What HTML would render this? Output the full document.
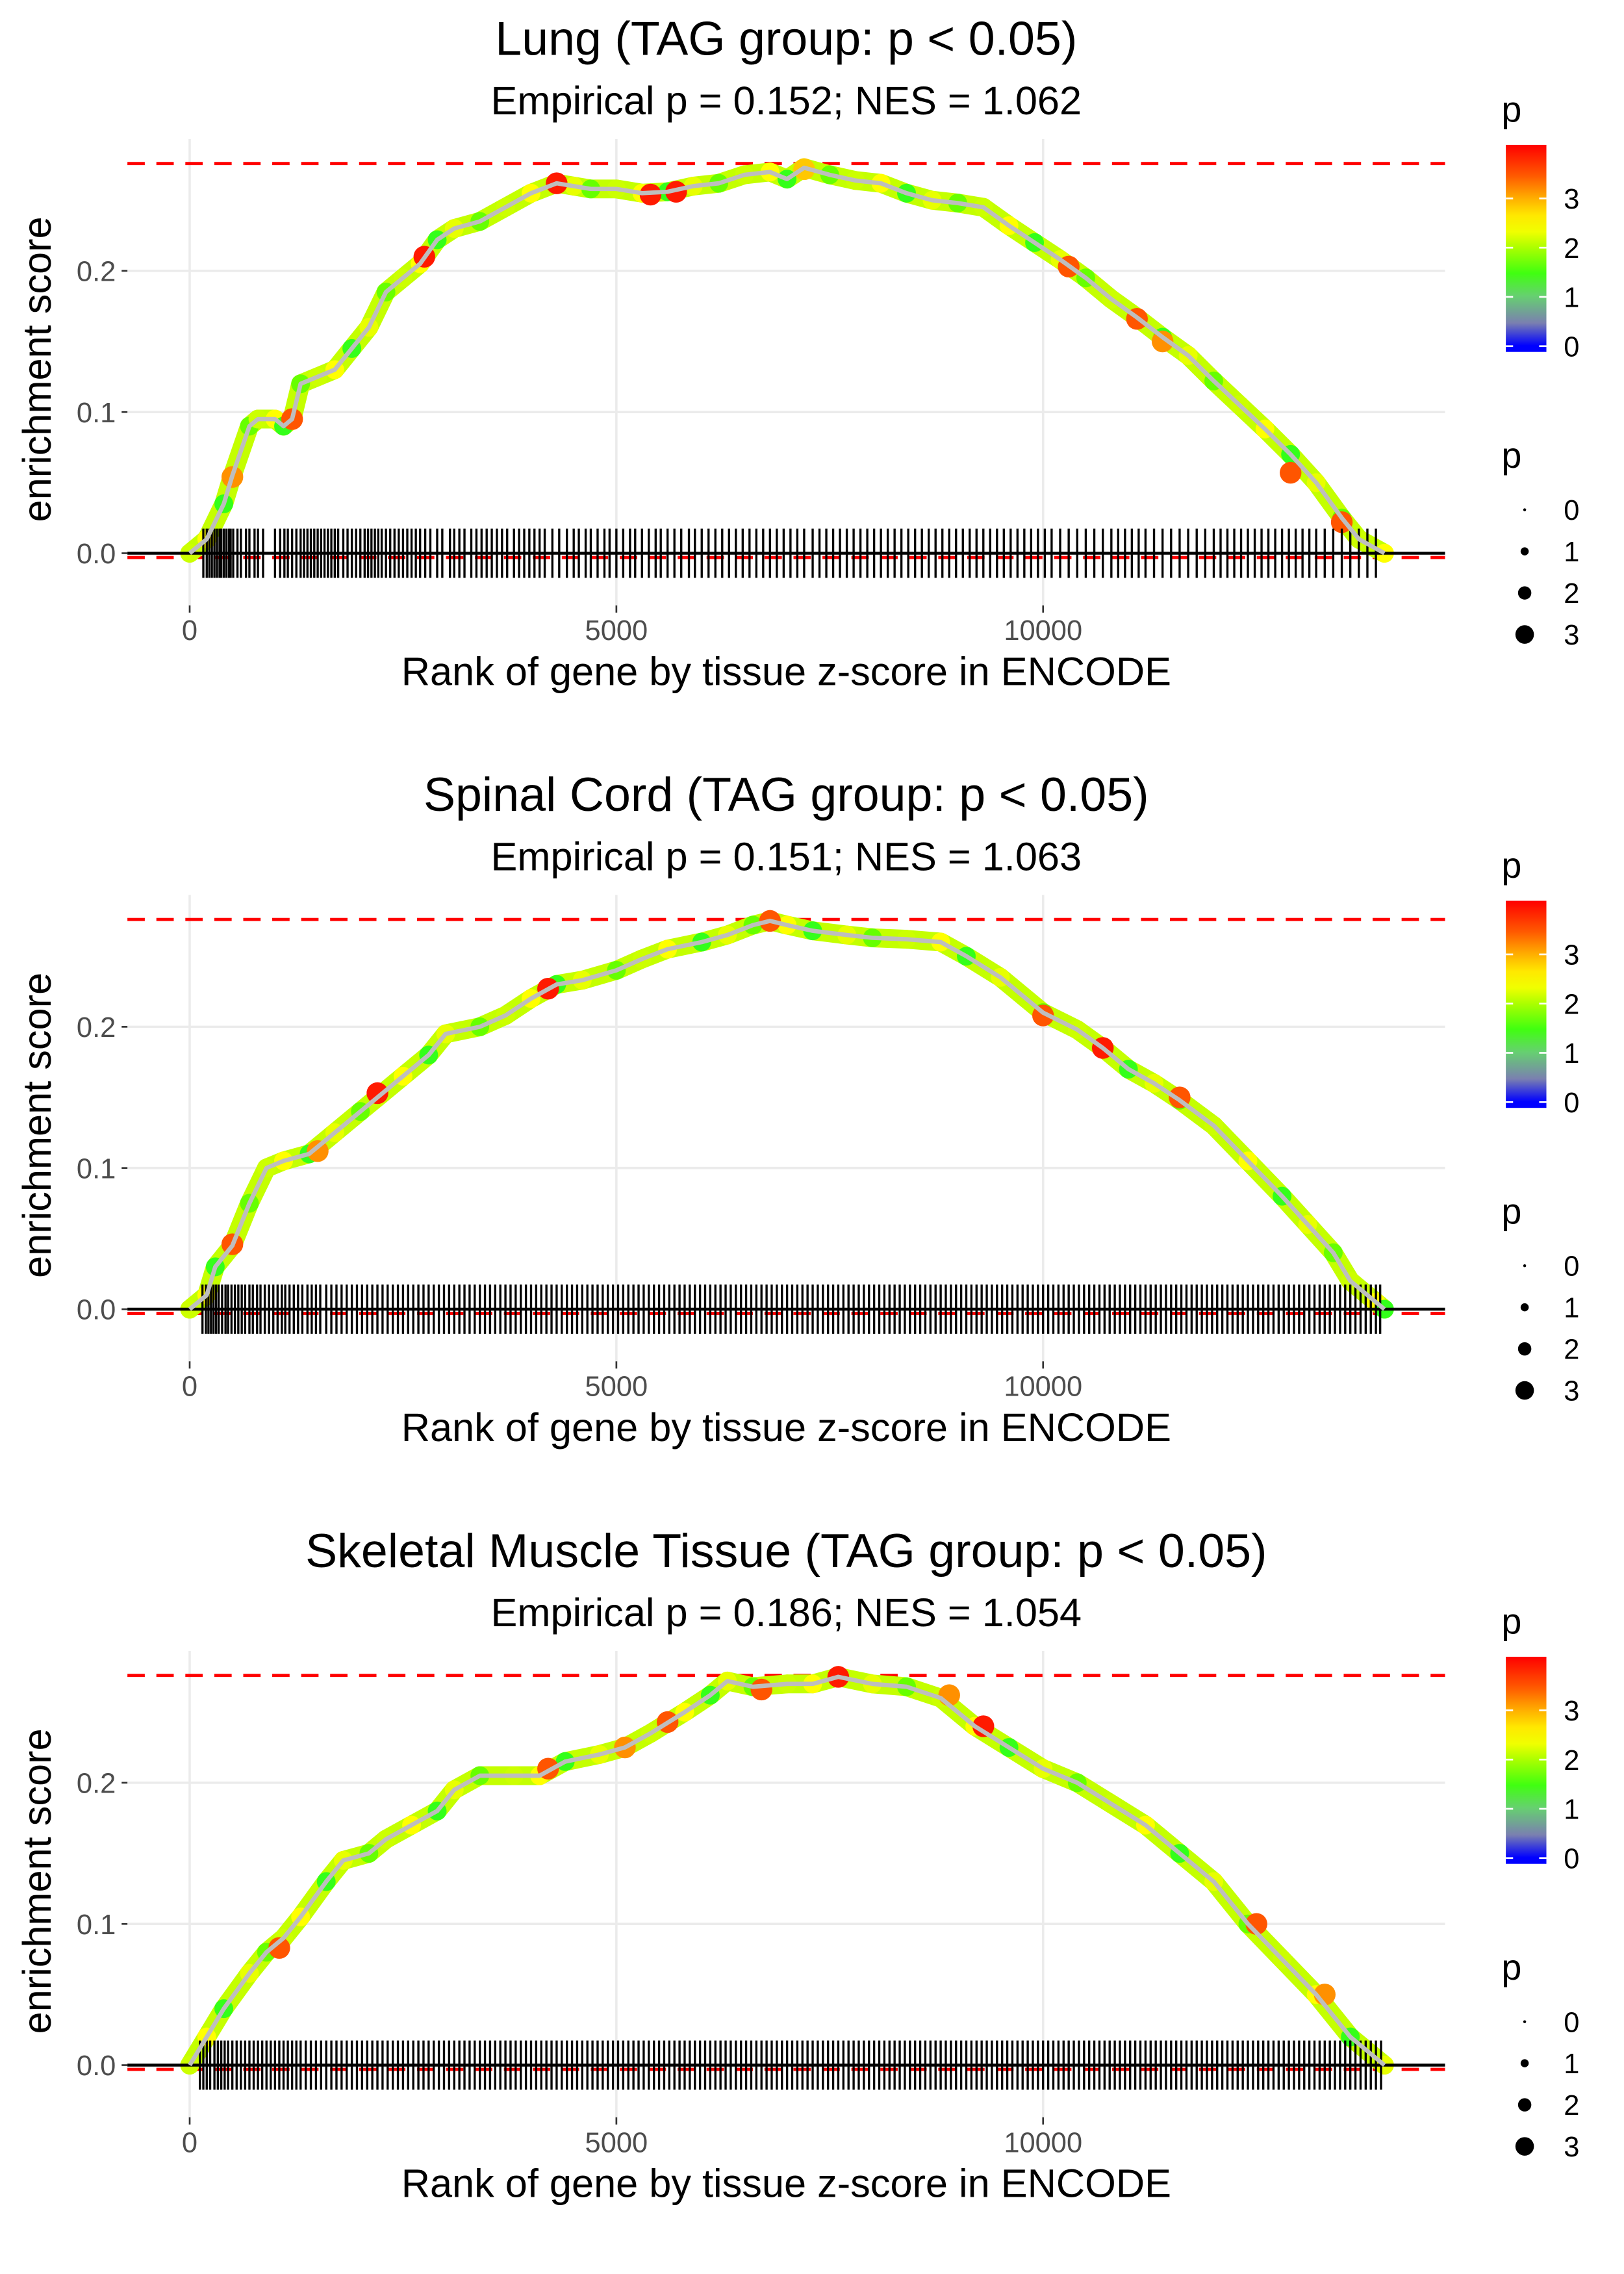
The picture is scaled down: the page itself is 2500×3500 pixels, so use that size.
<!DOCTYPE html>
<html><head><meta charset="utf-8"><style>
html,body{margin:0;padding:0;background:#fff;}
svg{display:block;font-family:"Liberation Sans",sans-serif;}
</style></head><body>
<svg id="chart" xmlns="http://www.w3.org/2000/svg" width="2500" height="3500" viewBox="0 0 1121.6 1570.2">
<defs>
<linearGradient id="cbar" x1="0" y1="0" x2="0" y2="1">
<stop offset="0" stop-color="#ff0000"/><stop offset="0.15" stop-color="#ff5a00"/>
<stop offset="0.26" stop-color="#ffb000"/><stop offset="0.34" stop-color="#ffe800"/>
<stop offset="0.42" stop-color="#f0ff00"/><stop offset="0.5" stop-color="#a8ff00"/>
<stop offset="0.62" stop-color="#40ff10"/><stop offset="0.73" stop-color="#66d070"/>
<stop offset="0.86" stop-color="#7a80b0"/><stop offset="0.97" stop-color="#0000ff"/><stop offset="1" stop-color="#0000ff"/>
</linearGradient>
</defs>
</svg>
<script>
// ---- data ----
const titles = ["Lung (TAG group: p < 0.05)","Spinal Cord (TAG group: p < 0.05)","Skeletal Muscle Tissue (TAG group: p < 0.05)"];
const subtitles = ["Empirical p = 0.152; NES = 1.062","Empirical p = 0.151; NES = 1.063","Empirical p = 0.186; NES = 1.054"];
const xTicks = [0,5000,10000];
const xTickLabels = ["0","5000","10000"];
const yTicks = [0,0.1,0.2];
const yTickLabels = ["0.0","0.1","0.2"];
const esMax = [0.276,0.276,0.276];
const esMin = [-0.003,-0.003,-0.003];
const legendValues = [0,1,2,3];

const lungRank = [0,200,400,500,700,800,1000,1100,1200,1300,1500,1700,1900,2100,2300,2500,2700,2900,3100,3400,3700,4000,4300,4500,4700,5000,5300,5600,5900,6200,6500,6800,7000,7200,7500,7800,8100,8400,8700,9000,9300,9600,9900,10200,10500,10800,11100,11400,11700,12000,12300,12600,12900,13200,13500,13700,14000];
const lungES = [0,0.01,0.035,0.055,0.09,0.095,0.095,0.09,0.095,0.12,0.125,0.13,0.145,0.16,0.185,0.195,0.205,0.222,0.23,0.235,0.245,0.255,0.262,0.26,0.258,0.258,0.255,0.256,0.26,0.262,0.268,0.27,0.265,0.273,0.268,0.264,0.262,0.255,0.25,0.248,0.245,0.232,0.22,0.208,0.195,0.18,0.167,0.153,0.14,0.122,0.105,0.088,0.07,0.05,0.025,0.01,0];
const lungHiRank = [500,1200,2750,4300,5400,5700,7200,10300,11100,11400,12900,13500];
const lungHiES = [0.054,0.095,0.21,0.262,0.254,0.256,0.272,0.203,0.166,0.15,0.057,0.022];
const lungHiP = [3.4,3.5,3.9,3.9,3.8,3.9,3.0,3.6,3.6,3.4,3.5,3.6];
const lungRug = [160,200,230,260,290,320,350,370,400,430,460,480,510,560,600,660,700,760,800,860,1000,1060,1110,1150,1200,1250,1300,1340,1380,1420,1460,1500,1540,1580,1620,1660,1700,1740,1800,1850,1900,1950,2000,2050,2090,2130,2170,2210,2250,2300,2350,2400,2450,2500,2550,2600,2650,2700,2760,2820,2900,2960,3050,3100,3160,3220,3300,3360,3420,3480,3540,3600,3660,3720,3800,3860,3920,3980,4040,4100,4160,4250,4330,4420,4500,4560,4640,4700,4780,4860,4920,5000,5080,5160,5220,5300,5380,5460,5520,5600,5680,5760,5850,5920,6000,6080,6160,6240,6320,6400,6480,6560,6640,6720,6800,6880,6960,7040,7120,7200,7300,7380,7460,7540,7620,7700,7780,7860,7940,8020,8100,8180,8260,8340,8420,8500,8580,8660,8740,8820,8900,8980,9060,9140,9220,9300,9380,9460,9540,9620,9700,9780,9860,9940,10020,10100,10200,10300,10400,10500,10600,10700,10800,10880,10960,11040,11120,11200,11300,11400,11500,11600,11700,11800,11900,12000,12080,12160,12240,12320,12400,12480,12560,12640,12720,12800,12880,12960,13040,13120,13200,13300,13400,13500,13600,13700,13800,13900];

const spRank = [0,200,300,500,700,900,1100,1400,1700,2000,2200,2500,2800,3000,3400,3700,4000,4300,4600,5000,5300,5600,6000,6300,6600,6800,7000,7300,7700,8000,8400,8800,9100,9500,10000,10400,10700,11000,11300,11600,12000,12400,12800,13100,13400,13600,13900,14000];
const spES = [0,0.01,0.03,0.045,0.075,0.1,0.105,0.11,0.125,0.14,0.15,0.165,0.18,0.195,0.2,0.208,0.22,0.23,0.233,0.24,0.248,0.255,0.26,0.265,0.272,0.275,0.272,0.268,0.265,0.263,0.262,0.26,0.25,0.235,0.21,0.198,0.185,0.17,0.16,0.148,0.13,0.105,0.08,0.06,0.04,0.02,0.005,0];
const spHiRank = [500,1500,2200,4200,6800,10000,10700,11600];
const spHiES = [0.046,0.112,0.153,0.227,0.275,0.208,0.185,0.15];
const spHiP = [3.6,3.2,3.9,3.9,3.5,3.7,3.9,3.7];
const spRug = [150,190,220,250,280,310,340,380,420,450,490,530,570,610,650,700,740,790,830,880,930,980,1030,1080,1120,1170,1220,1270,1320,1380,1430,1480,1530,1600,1660,1720,1780,1840,1900,1960,2020,2080,2140,2200,2260,2320,2380,2440,2500,2560,2620,2680,2740,2800,2860,2920,2980,3040,3100,3160,3220,3280,3340,3400,3460,3520,3580,3640,3700,3760,3820,3880,3940,4000,4060,4120,4180,4240,4300,4360,4420,4480,4540,4600,4660,4720,4780,4840,4900,4960,5020,5080,5140,5200,5260,5320,5380,5440,5500,5560,5620,5680,5740,5800,5860,5920,5980,6040,6100,6160,6220,6280,6340,6400,6460,6520,6580,6640,6700,6760,6820,6880,6940,7000,7060,7120,7180,7240,7300,7360,7420,7480,7540,7600,7660,7720,7780,7840,7900,7960,8020,8080,8140,8200,8260,8320,8380,8440,8500,8560,8620,8680,8740,8800,8860,8920,8980,9040,9100,9160,9220,9280,9340,9400,9460,9520,9580,9640,9700,9760,9820,9880,9940,10000,10060,10120,10180,10240,10300,10360,10420,10480,10540,10600,10660,10720,10780,10840,10900,10960,11020,11080,11140,11200,11260,11320,11380,11440,11500,11560,11620,11680,11740,11800,11860,11920,11980,12040,12100,12160,12220,12280,12340,12400,12460,12520,12580,12640,12700,12760,12820,12880,12940,13000,13060,13120,13180,13240,13300,13360,13420,13480,13540,13600,13660,13720,13780,13840,13900,13950];

const skRank = [0,200,400,700,900,1100,1300,1600,1800,2100,2300,2600,2900,3100,3400,3800,4100,4400,4800,5100,5400,5800,6100,6300,6600,7000,7300,7600,8000,8400,8800,9200,9600,10000,10400,10800,11200,11600,12000,12400,12800,13200,13600,14000];
const skES = [0,0.02,0.04,0.065,0.08,0.09,0.105,0.13,0.145,0.15,0.16,0.17,0.18,0.195,0.205,0.205,0.205,0.215,0.22,0.225,0.235,0.25,0.262,0.272,0.268,0.27,0.27,0.275,0.27,0.268,0.26,0.24,0.225,0.21,0.2,0.185,0.17,0.15,0.13,0.1,0.075,0.05,0.02,0];
const skHiRank = [1050,4200,5100,5600,6700,7600,8900,9300,12500,13300];
const skHiES = [0.083,0.21,0.225,0.243,0.266,0.275,0.262,0.24,0.1,0.05];
const skHiP = [3.7,3.5,3.2,3.5,3.7,3.9,3.3,3.8,3.7,3.4];
const skRug = [120,160,200,240,290,330,370,410,450,500,550,600,650,700,750,800,850,900,950,1000,1050,1100,1150,1200,1250,1300,1360,1420,1480,1540,1600,1660,1720,1780,1840,1900,1960,2020,2080,2140,2200,2260,2320,2380,2440,2500,2560,2620,2680,2740,2800,2860,2920,2980,3040,3100,3160,3220,3280,3340,3400,3460,3520,3580,3640,3700,3760,3820,3880,3940,4000,4060,4120,4180,4240,4300,4360,4420,4480,4540,4600,4660,4720,4780,4840,4900,4960,5020,5080,5140,5200,5260,5320,5380,5440,5500,5560,5620,5680,5740,5800,5860,5920,5980,6040,6100,6160,6220,6280,6340,6400,6460,6520,6580,6640,6700,6760,6820,6880,6940,7000,7060,7120,7180,7240,7300,7360,7420,7480,7540,7600,7660,7720,7780,7840,7900,7960,8020,8080,8140,8200,8260,8320,8380,8440,8500,8560,8620,8680,8740,8800,8860,8920,8980,9040,9100,9160,9220,9280,9340,9400,9460,9520,9580,9640,9700,9760,9820,9880,9940,10000,10060,10120,10180,10240,10300,10360,10420,10480,10540,10600,10660,10720,10780,10840,10900,10960,11020,11080,11140,11200,11260,11320,11380,11440,11500,11560,11620,11680,11740,11800,11860,11920,11980,12040,12100,12160,12220,12280,12340,12400,12460,12520,12580,12640,12700,12760,12820,12880,12940,13000,13060,13120,13180,13240,13300,13360,13420,13480,13540,13600,13660,13720,13780,13840,13900,13960];

const panels = [
 {rank:lungRank, es:lungES, hr:lungHiRank, he:lungHiES, hp:lungHiP, rug:lungRug, name:'lung'},
 {rank:spRank, es:spES, hr:spHiRank, he:spHiES, hp:spHiP, rug:spRug, name:'spinal-cord'},
 {rank:skRank, es:skES, hr:skHiRank, he:skHiES, hp:skHiP, rug:skRug, name:'skeletal-muscle'}
];

// ---- drawing ----
const NS = "http://www.w3.org/2000/svg";
const svg = document.getElementById('chart');
function mk(tag, attrs, parent, text){
  const e = document.createElementNS(NS, tag);
  for (const k in attrs) e.setAttribute(k, attrs[k]);
  if (text !== undefined) e.textContent = text;
  (parent||svg).appendChild(e);
  return e;
}
const X = v => 131 + v * 0.05894;
function pColor(p){
  if (p >= 3.8) return '#ff1a00';
  if (p >= 3.5) return '#ff5500';
  if (p >= 3.2) return '#ff9000';
  return '#ffc800';
}
const dotColors = ['#ccff00','#ffff00','#33ff1a','#e8ff00','#66ff00'];

panels.forEach((P, i) => {
  const off = i * 522;
  const Y = v => off + 382 - v * 975;
  const g = mk('g', {});
  
  

  // grid
  xTicks.forEach((t, j) => {
    const gl = mk('line', {x1:X(t), x2:X(t), y1:off+96, y2:off+418, stroke:'#ebebeb', 'stroke-width':1.6}, g);
    
    
    mk('line', {x1:X(t), x2:X(t), y1:off+418, y2:off+423, stroke:'#333', 'stroke-width':1.2}, g);
    const tl = mk('text', {x:X(t), y:off+442, 'text-anchor':'middle', 'font-size':19.5, fill:'#4d4d4d'}, g, xTickLabels[j]);
    
    
  });
  yTicks.forEach((t, j) => {
    const gl = mk('line', {x1:88, x2:998, y1:Y(t), y2:Y(t), stroke:'#ebebeb', 'stroke-width':1.6}, g);
    
    
    mk('line', {x1:84, x2:88, y1:Y(t), y2:Y(t), stroke:'#333', 'stroke-width':1.2}, g);
    const tl = mk('text', {x:80, y:Y(t)+7, 'text-anchor':'end', 'font-size':19.5, fill:'#4d4d4d'}, g, yTickLabels[j]);
    
    
  });

  // titles
  const tt = mk('text', {x:543, y:off+38, 'text-anchor':'middle', 'font-size':33, fill:'#000'}, g, titles[i]);
  
  
  const st = mk('text', {x:543, y:off+79, 'text-anchor':'middle', 'font-size':27.5, fill:'#000'}, g, subtitles[i]);
  
  
  const xt = mk('text', {x:543, y:off+473, 'text-anchor':'middle', 'font-size':27.5, fill:'#000'}, g, 'Rank of gene by tissue z-score in ENCODE');
  
  
  const yt = mk('text', {x:0, y:0, 'text-anchor':'middle', 'font-size':27.5, fill:'#000', transform:`translate(35,${off+255}) rotate(-90)`}, g, 'enrichment score');
  
  

  // red dashed bounds
  const d1 = mk('line', {x1:88, x2:998, y1:Y(esMax[i]), y2:Y(esMax[i]), stroke:'#ff0000', 'stroke-width':2.2, 'stroke-dasharray':'12 8'}, g);
  
  
  const d2 = mk('line', {x1:88, x2:998, y1:Y(esMin[i]), y2:Y(esMin[i]), stroke:'#ff0000', 'stroke-width':2.2, 'stroke-dasharray':'12 8'}, g);
  
  

  // curve band
  const pts = P.rank.map((r, k) => X(r) + ',' + Y(P.es[k])).join(' ');
  const band = mk('polyline', {points:pts, fill:'none', stroke:'#c4ff00', 'stroke-width':13, 'stroke-linejoin':'round', 'stroke-linecap':'round'}, g);
  
  
  P.rank.forEach((r, k) => {
    const c = mk('circle', {cx:X(r), cy:Y(P.es[k]), r:6.5, fill:dotColors[k % dotColors.length]}, g);
    
    
  });
  P.hr.forEach((r, k) => {
    const c = mk('circle', {cx:X(r), cy:Y(P.he[k]), r:7.5, fill:pColor(P.hp[k])}, g);
    
    
  });

  // rug
  const rg = mk('g', {stroke:'#000', 'stroke-width':1.5}, g);
  
  
  P.rug.forEach(r => {
    const l = mk('line', {x1:X(r), x2:X(r), y1:off+365, y2:off+399}, rg);
    
    
  });

  // zero line
  const z = mk('line', {x1:88, x2:998, y1:Y(0), y2:Y(0), stroke:'#000', 'stroke-width':2}, g);
  
  

  // gray line on top
  const gl = mk('polyline', {points:pts, fill:'none', stroke:'#bebebe', 'stroke-width':3, 'stroke-linejoin':'round'}, g);
  
  

  // colour legend
  const lg = mk('g', {}, g);
  
  
  mk('text', {x:1037, y:off+84, 'font-size':25, fill:'#000'}, lg, 'p');
  mk('rect', {x:1040, y:off+100, width:28, height:143, fill:'url(#cbar)'}, lg);
  legendValues.forEach(v => {
    const yy = off + 239 - v * 34;
    mk('line', {x1:1040, x2:1045, y1:yy, y2:yy, stroke:'#fff', 'stroke-width':1.2}, lg);
    mk('line', {x1:1063, x2:1068, y1:yy, y2:yy, stroke:'#fff', 'stroke-width':1.2}, lg);
    mk('text', {x:1080, y:yy+7, 'font-size':19.5, fill:'#000'}, lg, String(v));
  });

  // size legend
  const sg = mk('g', {}, g);
  
  
  mk('text', {x:1037, y:off+323, 'font-size':25, fill:'#000'}, sg, 'p');
  legendValues.forEach((v, j) => {
    const yy = off + 352 + j * 28.7;
    mk('circle', {cx:1053, cy:yy, r:1 + v * 1.8, fill:'#000'}, sg);
    mk('text', {x:1080, y:yy+7, 'font-size':19.5, fill:'#000'}, sg, String(v));
  });
});
</script>
</body></html>
